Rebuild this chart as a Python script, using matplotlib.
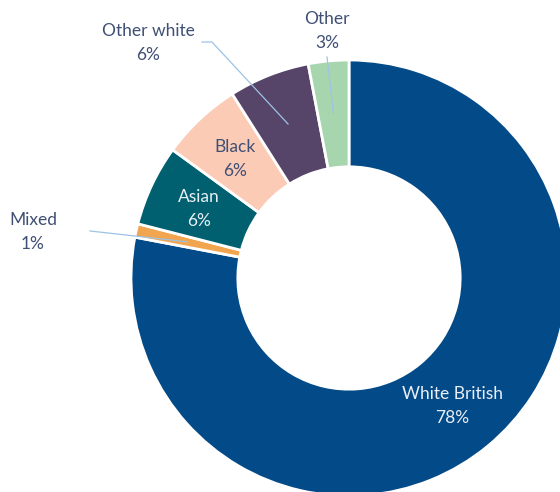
import matplotlib.pyplot as plt
import numpy as np

plt.rcParams['font.family'] = ['Lato', 'DejaVu Sans']

labels = ['White British', 'Mixed', 'Asian', 'Black', 'Other white', 'Other']
values = [78, 1, 6, 6, 6, 3]
colors = ['#034A88', '#F0A54E', '#00606F', '#FBCBB6', '#574469', '#A7D5AE']
text_colors = ['#E9EFF6', '#3F4F75', '#E9EFF6', '#3F4F75', '#3F4F75', '#3F4F75']

# geometry in pixels (center and outer radius of the ring)
W, H = 560, 492
cx, cy, R = 349, 278, 218


def px(x, y):
    return (x - cx) / R, (cy - y) / R


fig = plt.figure(figsize=(W / 100, H / 100), dpi=100)
ax = fig.add_axes([0, 0, 1, 1])

wedges, _ = ax.pie(values, colors=colors, startangle=90, counterclock=False,
                   radius=1, wedgeprops=dict(width=0.49, edgecolor='white', linewidth=2))

ax.set_xlim(-cx / R, (W - cx) / R)
ax.set_ylim(-(H - cy) / R, cy / R)
ax.set_aspect('auto')
ax.axis('off')

# label centers (pixels) - layout only
label_pos = {
    'White British': (452, 406),
    'Mixed': (33, 232),
    'Asian': (199, 209),
    'Black': (235, 159),
    'Other white': (148, 43),
    'Other': (327, 31),
}
# where leader lines start (pixels)
leader_start = {
    'Mixed': [(90, 231)],
    'Other white': [(202, 42), (212, 42)],
    'Other': [(327, 57)],
}

for w, lab, val, tc in zip(wedges, labels, values, text_colors):
    x, y = px(*label_pos[lab])
    ax.text(x, y, f'{lab}\n{val}%', ha='center', va='center', fontsize=12.5,
            color=tc, linespacing=1.55)
    if lab in leader_start:
        mid = np.deg2rad((w.theta1 + w.theta2) / 2)
        pts = [px(*p) for p in leader_start[lab]]
        pts.append((0.76 * np.cos(mid), 0.76 * np.sin(mid)))
        xs, ys = zip(*pts)
        ax.plot(xs, ys, color='#9DC3E6', linewidth=0.9)

fig.savefig('out.png', dpi=100)
